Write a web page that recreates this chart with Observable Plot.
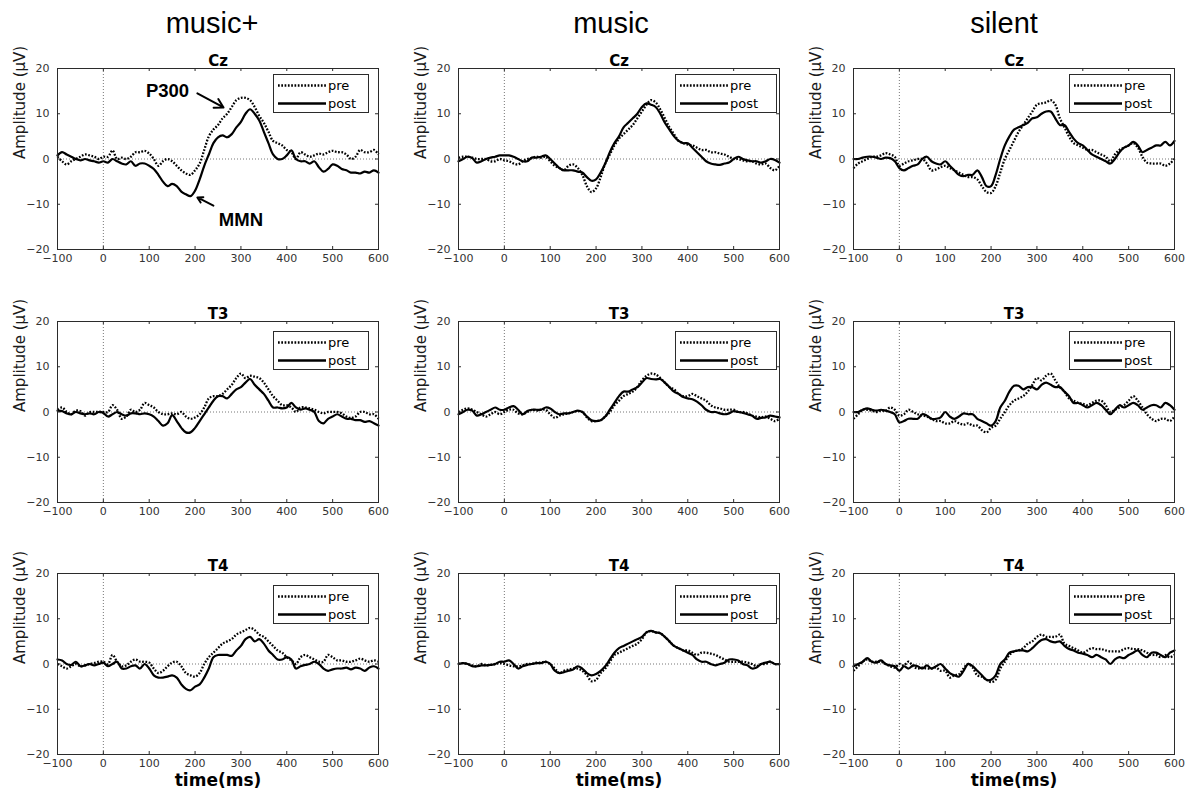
<!DOCTYPE html>
<html>
<head>
<meta charset="utf-8">
<script src="https://cdn.jsdelivr.net/npm/d3@7"></script>
<script src="https://cdn.jsdelivr.net/npm/@observablehq/plot@0.6"></script>
<style>
  body { margin: 0; background: #fff; }
  #root { position: relative; width: 1187px; height: 791px; overflow: hidden; background: #fff; }
  .coltitle { position: absolute; top: 3px; line-height: 40px; font-family: "Liberation Sans", Arial, sans-serif; font-size: 29px; color: #000; transform: translateX(-50%); white-space: nowrap; }
  .panel { position: absolute; }
  .legend { position: absolute; }
</style>
</head>
<body>
<div id="root"></div>
<script>
// ---------------- data ----------------
const conditions = ["music+", "music", "silent"];
const electrodes = ["Cz", "T3", "T4"];
const seriesNames = ["pre", "post"];
const xTicks = [-100, 0, 100, 200, 300, 400, 500, 600];
const yTicks = [-20, -10, 0, 10, 20];
const yLabel = "Amplitude (\u03BCV)";
const xLabel = "time(ms)";
const time = d3.range(-100, 610, 10); // sample times, ms

const musicPlusCzPre = [0.5,-0.5,-1.2,-0.5,0,0.5,1,0.8,0.5,0, 0.5,0.5,1.9,0,0.3,0,0.5,1.5,1.5,1.8, 1.2,0,-1.5,-0.5,0,-0.5,-1.5,-2.5,-3.2,-3.5, -2.5,-1,2,5,6.5,7.5,9,10,11.5,13, 13.5,13.5,13,11.5,9.5,8,6,4,3.5,3, 2,1.5,0,1.5,1,0.5,0.8,1.2,1,1.5, 1.8,1.5,1.5,1,0,0.5,2,1.5,1.5,2, 1];
const musicPlusCzPost = [0.8,1.5,1,0.5,0,-0.3,0,-0.3,-0.5,-0.8, -0.5,-0.8,0,-0.5,-1,-1.2,-0.5,-1.5,-1,-1, -1.5,-2.2,-3.5,-5,-6,-5.5,-6,-7.2,-7.8,-8.2, -7,-4.5,-1.5,1,3.5,4.8,5.2,4.8,5.5,7, 8.2,10,11,10,8.5,6,3.5,1,0,0, 0.8,1.9,0,-0.5,-0.5,-1,-0.5,-1.8,-2.8,-2.2, -1.2,-1.5,-2.2,-2.5,-3,-3,-3.2,-2.8,-3,-2.5, -3];
const musicCzPre = [0.3,0.5,0.5,0.3,0,0,0,-0.5,-0.5,0, -0.3,-0.5,-1,-1.2,-0.5,0,0.2,0.5,0.3,0.5, -0.5,-1.5,-2,-2.5,-1.5,-1.2,-2,-3.5,-6,-7.3, -6.5,-4,-1,1,3,4.5,5.5,6.5,7.5,9, 10.5,12,13,12.5,11,9,7,5.5,4,3.5, 3.2,3,2.5,2,2,1.5,1.5,1.2,1,0.5, 0,0,-0.3,-0.5,-0.5,-1,-1.2,-1,-2,-2.5, -1.5];
const musicCzPost = [-0.5,0,0.5,0.2,-0.8,-0.5,0,0.3,0.5,0.8, 0.8,0.8,0.5,0,-0.5,-0.5,0.3,0.3,0.5,0.8, 0,-1,-2,-2.5,-2.5,-2.5,-2.8,-3,-4,-4.8, -4.5,-3,-1,1.5,3.5,5,7,8,9,10, 11.5,12.3,12,11.5,10,8,6.5,5,4,3.5, 3.5,2.5,1.5,0.5,-0.5,-1,-1.2,-1.3,-1,-0.8, 0,0.5,0,-0.3,-0.5,-0.5,-0.8,-0.5,0,-0.2, -0.8];
const silentCzPre = [-2,-1,-0.5,0,0.5,0.5,0.8,1.3,1,0.5, -1.5,-1,-0.5,-0.3,0,0,-1,-2.5,-2.3,-1.8, -1.5,-2,-2.5,-3,-3.5,-4,-4,-4.5,-6,-7.3, -7.5,-6,-3,0,2,4,6,7.5,9,10.5, 12,12.3,12.5,13,12,9,7,5,3.5,3, 2.5,2,2,1.5,1,0.5,-0.5,1,2,2.5, 3,3.5,2.5,0.5,-0.8,-1,-1,-1,-1.5,-1, 0];
const silentCzPost = [0,0,0.3,0.5,0.5,0.3,0,0.3,0.2,-0.5, -2,-2.5,-2,-1.5,-1.2,0,0.5,-0.5,-1,-1.2, -0.5,-1.5,-2.5,-3.5,-3.8,-3.5,-3.5,-2.5,-4,-6, -6,-3.5,0,3,5,6.5,7,7.5,8,9, 9.2,10,10.5,10.5,9,7.5,7.5,6,4.5,3.5, 3,2,1,0.5,0,-0.5,-1,0,1.5,2.5, 3,3.8,3,1.5,2,2.5,3,3,3.8,3, 4];
const musicPlusT3Pre = [0.5,1,0,-0.5,0.3,0.2,-0.8,0,0,0, 0,0,1.5,0.5,-1.5,-1,0.5,0,0.5,2, 1.5,1,0,-0.5,-0.5,-0.3,-0.5,0,-1,-1.5, -1.2,-0.5,1,3,3.5,3.5,4,5,6,7.5, 8.5,7.5,8,7.8,7.5,6.5,5,3.5,2.5,1.5, 1.5,1,0,1,1,0.8,0.5,0,-0.3,0, 0,0,-0.3,-1,-1.3,-1,0,0,-0.5,-0.5, -1.5];
const musicPlusT3Post = [0.3,0.2,-0.3,-0.5,0,-0.3,-0.5,-0.3,-0.5,0, -0.2,-1,-0.5,0,-0.5,-0.8,-0.3,-0.3,-0.5,-0.3, -0.5,-1,-2,-3,-2.5,-0.7,-2,-3.5,-4.5,-4.5, -3.5,-2,-0.5,1,2.5,3.5,3.5,3,4,5, 5.5,6.5,7.3,6,5,4,2.5,1,1,0.8, 1,2,1,0.5,0.8,0.5,0,-2,-2.5,-1.5, -1,-0.5,-1,-1.5,-1.5,-1.8,-1.8,-2.2,-2,-2.5, -3];
const musicT3Pre = [0,0.5,0.8,0.5,0,-0.5,-1,-0.5,0,-0.5, 0,0.5,0.5,-0.3,-0.5,0,0.5,0.3,0.5,0.5, -0.5,-1.3,-0.8,-0.5,-0.3,0,0.2,0,-1.2,-2, -2,-1.8,-1,0,1.5,2.5,3.5,4,4.5,5.5, 7,8,8.5,8.3,7.5,6.5,5.5,5,4,3.5, 3.5,4,3.5,3,2.5,1.5,1,0.8,0.5,0.5, 0.5,0,0,-0.3,-0.8,-1,-1.2,-1,-1.5,-2, -1.5];
const musicT3Post = [-0.5,0,0.5,0.3,-0.8,-0.5,0,0.5,1,0.5, 0.5,1,1.3,0.5,-0.5,0.2,0.5,0.5,0.5,1, 0.8,0,-0.5,-0.3,-0.3,0,0.3,0,-1,-1.8, -2,-1.8,-1,0.5,2,3.5,4.5,4.5,5,5.5, 6.5,7.5,7.3,7.2,7.3,6.5,5.5,4.5,4,3.3, 3,2.8,2.3,1.5,0.5,0,0,-0.3,-0.5,-0.3, 0.2,0,-0.2,-0.5,-0.8,-1.5,-1.3,-1.2,-0.8,-1, -1.2];
const silentT3Pre = [-1.5,-0.5,0.5,0.5,0.3,0,0.3,0.3,1,0.5, -0.8,-0.5,0.5,0,-0.5,-0.8,-1,-1.5,-2,-2, -2.5,-2.5,-2,-2.5,-2.8,-2.5,-3,-3,-4,-4.5, -3.5,-3,-1.5,0,1.5,2.5,3,3.5,4.5,6, 7.5,7,8,8.5,7,5.5,4.5,3,2.5,2, 1.8,1.5,2,2.5,2.5,1.5,0,0.5,1,1.5, 2.5,3.5,2.5,1,-0.5,-1.5,-2,-1.5,-1.5,-2, -1];
const silentT3Post = [0,0,0.5,0.8,0.5,0.3,0.5,0.3,0,-0.5, -2.3,-2,-1.5,-1.5,-1.5,-0.5,-0.8,-1.5,-1.5,-1.2, 0,-1,-1.5,-1,-0.3,-0.5,-0.5,-1.5,-2,-2.5, -3,-2,1,2.5,4.5,5.8,5.8,5,5.5,5.5, 5,6,6.5,6,5.5,5.5,4.5,3.5,2,2, 1.5,1,1.5,2,1.5,0.5,-0.5,0.5,1.5,1, 1.5,2,1.5,0.5,1,1.5,1.5,1,2,1.5, 0.5];
const musicPlusT4Pre = [0,-0.5,-1,-0.5,0,-0.5,-0.3,0,0.2,0.5, 0.5,0,2,0.5,-0.5,-0.3,0.5,1,0.5,0.5, 0.3,-1,-2,-1.5,-0.5,0.3,0.5,-0.5,-2,-2.5, -2.8,-2,0,1.5,2.5,3.5,4.5,5,5.5,6.5, 7,7.5,8,7.5,6.5,6,5,4,3,2.5, 1.5,0.8,0,1.5,2,1.5,1,0.5,0.5,2, 1.5,0.8,0.8,0.5,0.5,0.8,1.2,0.8,0.5,0.8, 0.5];
const musicPlusT4Post = [1,0.8,0,-0.2,0.5,-0.5,-0.3,0,-0.3,0, 0.3,-0.5,0,0.5,-1,-1,-0.5,-0.3,-1,0, -1,-2.5,-3,-3,-2.8,-2.5,-3,-4.5,-5.5,-5.8, -5,-4.5,-3,-1,1.5,2,2,2,1.8,3, 4,5.5,6,5,5.5,4.5,3,2,1,1, 1.5,1,-1,-0.5,-0.2,0,0.5,0,-1,-1.5, -1.2,-1,-1,-0.8,-1.2,-0.8,-1,-1.5,-0.8,-0.5, -1];
const musicT4Pre = [0,0.2,0,-0.3,-0.5,0,-0.3,-0.2,0,0.2, 0,-0.3,-0.5,-0.5,-0.3,0,0,0.3,0.3,0.5, 0,-1,-2,-1.5,-1.2,-1,-1,-1.5,-2.5,-3.8, -3.5,-2,-1,0.5,2,2.5,3,3.5,4,4.5, 5.5,7,7.3,7,6.8,6,5,4,3.5,3, 3,2.5,2,2.5,2.5,2.3,2,1.5,1,0.5, 0.5,0.5,0.5,0.3,0,-0.5,0,0,0.5,0, 0];
const musicT4Post = [0,0.2,0,-0.5,-0.5,-0.3,-0.3,-0.2,0,0.5, 0.5,0.8,0,-1,-0.5,-0.2,0,0.2,0.2,0.5, 0,-1.5,-2,-1.8,-1.5,-1.2,-0.5,-1,-2,-2.5, -2.2,-1.5,-0.5,1,2.5,3.5,4,4.5,5,5.5, 6,7,7.3,7,6.8,6,5,4,3.5,3, 2.5,2,1,0.5,0.5,0,-0.3,0,0.3,1, 1,0.8,0,-0.3,-1,-0.8,0,0.3,0.5,0, 0];
const silentT4Pre = [-1.5,-0.5,0.5,1,0.5,0.5,0.5,0,-0.5,-0.8, 0,-0.3,0.5,-0.5,-1,-0.8,-1,-1,-0.8,-1.5, -1.5,-3,-2.5,-2.3,-1,0,-0.8,-2.5,-2.8,-3.5, -4,-3.5,-1,0.5,2,2.8,3,3.5,4.5,5, 6,6.5,6,6,6,6.5,4.5,4,3.5,3, 2.5,3,3.5,3.3,3.3,3,2.8,2.8,2.8,3.3, 3.5,3.3,3.3,3,2.5,2,2,1.5,2,1.5, 2];
const silentT4Post = [-0.5,0,0.5,1.3,0.5,0.3,0.8,0,-0.3,-0.5, -1.5,-0.5,-1,-0.3,-0.5,-1,-0.3,-1,-0.5,0, -1,-2,-2.5,-2.8,-1.5,0,-0.5,-1.5,-2.5,-3.5, -3.5,-2.5,0,1,2.5,2.8,3,3,2.8,3.5, 4.5,5.3,5.5,5,4.8,5,4,3.3,3,2.5, 2.3,2,1.5,2,1.5,1,0,1,1.5,1.3, 2,2.5,3,2,1.5,2.5,2.5,2,1.5,2.5, 3];

// annotations (music+ / Cz panel)
const annotLabels = ["P300", "MMN"];
const annotLabelX = [140, 300];
const annotLabelY = [15.1, -13.6];
const arrowFromX = [205, 240];
const arrowFromY = [14.5, -10.3];
const arrowToX = [262, 205];
const arrowToY = [11.4, -8.5];

// series lookup [condition][electrode] -> [pre, post]
const series = [
  [[musicPlusCzPre, musicPlusCzPost], [musicPlusT3Pre, musicPlusT3Post], [musicPlusT4Pre, musicPlusT4Post]],
  [[musicCzPre, musicCzPost], [musicT3Pre, musicT3Post], [musicT4Pre, musicT4Post]],
  [[silentCzPre, silentCzPost], [silentT3Pre, silentT3Post], [silentT4Pre, silentT4Post]]
];

// ---------------- layout ----------------
const W = 321, H = 181;
const mL = 57, mR = 12, mT = 28, mB = 36;
const colPlotLeft = [57, 458, 853];
const rowPlotTop = [68, 321, 573];
const titleCenterX = [212, 611, 1004];
const legendW = [95, 101, 101];
const legendRight = [10, 3, 4];
const legendTop = [6, 10, 12];
const AX = "#2b2b2b";
const DOT = "1.7,1.6";

const root = d3.select("#root");

conditions.forEach((c, ci) => {
  root.append("div").attr("class", "coltitle").style("left", titleCenterX[ci] + "px").text(c);
});

function makePanel(ci, ri) {
  const [pre, post] = series[ci][ri];
  const rows = time.map((t, i) => ({t, pre: pre[i], post: post[i]}));
  const marks = [
    Plot.ruleX([0], {stroke: "#777", strokeWidth: 1, strokeDasharray: "1,2"}),
    Plot.ruleY([0], {stroke: "#777", strokeWidth: 1, strokeDasharray: "1,2"}),
    Plot.line(rows, {x: "t", y: "pre", stroke: "#000", strokeWidth: 2.3, strokeDasharray: DOT, strokeLinecap: "butt", strokeLinejoin: "miter", curve: "catmull-rom"}),
    Plot.line(rows, {x: "t", y: "post", stroke: "#000", strokeWidth: 2.2, curve: "catmull-rom"}),
    Plot.frame({stroke: AX, strokeWidth: 1}),
    Plot.tickX(xTicks, {x: d => d, insetTop: H - 3, stroke: AX}),
    Plot.tickX(xTicks, {x: d => d, insetBottom: H - 3, stroke: AX}),
    Plot.tickY(yTicks, {y: d => d, insetRight: W - 3, stroke: AX}),
    Plot.tickY(yTicks, {y: d => d, insetLeft: W - 3, stroke: AX}),
    Plot.axisX(xTicks, {tickSize: 0, tickPadding: 5, label: null, fontSize: 11}),
    Plot.axisY(yTicks, {tickSize: 0, tickPadding: 8, label: null, fontSize: 11}),
    Plot.text([yLabel], {frameAnchor: "left", text: d => d, rotate: -90, dx: -37, fontSize: 15, fill: "#1a1a1a"}),
    Plot.text([electrodes[ri]], {frameAnchor: "top", lineAnchor: "bottom", text: d => d, dy: -3, fontSize: 15, fontWeight: "bold", fill: "#000"})
  ];
  if (ri === 2) {
    marks.push(Plot.text([xLabel], {frameAnchor: "bottom", lineAnchor: "middle", text: d => d, dy: 26, fontSize: 17, fontWeight: "bold", fill: "#000"}));
  }
  if (ci === 0 && ri === 0) {
    const ann = annotLabels.map((l, i) => ({label: l, x: annotLabelX[i], y: annotLabelY[i]}));
    const arr = annotLabels.map((l, i) => ({x1: arrowFromX[i], y1: arrowFromY[i], x2: arrowToX[i], y2: arrowToY[i]}));
    marks.push(Plot.arrow(arr, {x1: "x1", y1: "y1", x2: "x2", y2: "y2", stroke: "#000", strokeWidth: 2, headLength: 9}));
    marks.push(Plot.text(ann, {x: "x", y: "y", text: "label", fontSize: 18.5, fontWeight: "bold", fontFamily: "Liberation Sans, Arial, sans-serif", fill: "#000"}));
  }
  const svg = Plot.plot({
    width: mL + W + mR,
    height: mT + H + mB,
    marginLeft: mL, marginRight: mR, marginTop: mT, marginBottom: mB,
    x: {domain: [-100, 600]},
    y: {domain: [-20, 20]},
    style: {fontFamily: "DejaVu Sans, sans-serif", fontSize: "11px", color: "#333", background: "transparent", overflow: "visible"},
    marks
  });
  const wrap = root.append("div").attr("class", "panel")
    .style("left", (colPlotLeft[ci] - mL) + "px")
    .style("top", (rowPlotTop[ri] - mT) + "px");
  wrap.node().appendChild(svg);

  // legend box (inside plot area, top-right)
  const lw = legendW[ci], lh = 38;
  const lg = d3.create("svg").attr("class", "legend")
    .attr("width", lw + 2).attr("height", lh + 2)
    .style("left", (colPlotLeft[ci] + W - legendRight[ci] - lw) + "px")
    .style("top", (rowPlotTop[ri] + legendTop[ri]) + "px");
  lg.append("rect").attr("x", 0.5).attr("y", 0.5).attr("width", lw).attr("height", lh)
    .attr("fill", "#fff").attr("stroke", AX).attr("stroke-width", 1);
  seriesNames.forEach((name, i) => {
    const yy = 11.5 + i * 18;
    lg.append("line").attr("x1", 5).attr("x2", 53).attr("y1", yy).attr("y2", yy)
      .attr("stroke", "#000").attr("stroke-width", 2.3)
      .attr("stroke-dasharray", i === 0 ? DOT : null);
    lg.append("text").attr("x", 55).attr("y", yy).attr("dy", "0.35em")
      .attr("font-family", "DejaVu Sans, sans-serif").attr("font-size", 13).attr("fill", "#000").text(name);
  });
  root.node().appendChild(lg.node());
}

for (let ci = 0; ci < 3; ci++) for (let ri = 0; ri < 3; ri++) makePanel(ci, ri);
</script>
</body>
</html>
